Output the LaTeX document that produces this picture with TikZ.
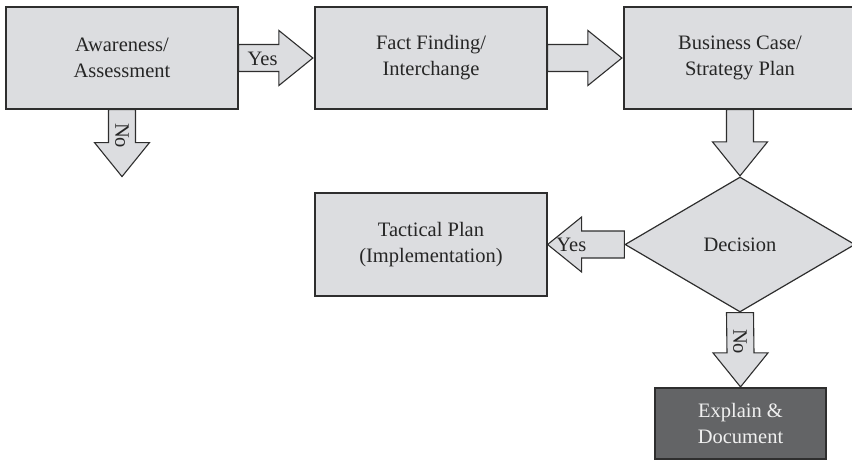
\documentclass[tikz,border=0pt]{standalone}
\usepackage{fontspec}
\setmainfont{Liberation Serif}
\usetikzlibrary{calc,shapes.geometric}

\definecolor{boxfill}{HTML}{DCDDE0}
\definecolor{boxline}{HTML}{2E2E2E}
\definecolor{darkfill}{HTML}{636466}
\definecolor{inktext}{HTML}{262626}

\tikzset{
  stage/.style={draw=boxline, fill=boxfill, line width=1.2pt,
    minimum width=232pt, minimum height=102pt, inner sep=0pt,
    align=center, text=inktext,
    font=\fontsize{20.5pt}{26pt}\selectfont},
  finalbox/.style={stage, fill=darkfill, text=white!94!black,
    minimum width=171pt, minimum height=71pt},
  choice/.style={draw=boxline, fill=boxfill, line width=1.2pt,
    shape=diamond, inner sep=0pt, minimum width=230pt, minimum height=135pt,
    text=inktext, font=\fontsize{20.5pt}{26pt}\selectfont},
  blockarrow/.style={draw=boxline, fill=boxfill, line width=1.1pt, line join=miter},
  arrowlabel/.style={text=inktext, inner sep=0pt,
    font=\fontsize{20.5pt}{26pt}\selectfont}
}

% shaft half width, head half width, head length
\def\sh{13.5}
\def\hh{27.5}
\def\hl{34}

% block arrow pointing right: shaft starts at #1, tip at #2 (same height)
\newcommand\blockright[2]{%
  \draw[blockarrow] ($(#1)+(0,-\sh)$) -- ($(#2)+(-\hl,-\sh)$) -- ($(#2)+(-\hl,-\hh)$)
    -- (#2) -- ($(#2)+(-\hl,\hh)$) -- ($(#2)+(-\hl,\sh)$) -- ($(#1)+(0,\sh)$) -- cycle;}
% block arrow pointing left
\newcommand\blockleft[2]{%
  \draw[blockarrow] ($(#1)+(0,-\sh)$) -- ($(#2)+(\hl,-\sh)$) -- ($(#2)+(\hl,-\hh)$)
    -- (#2) -- ($(#2)+(\hl,\hh)$) -- ($(#2)+(\hl,\sh)$) -- ($(#1)+(0,\sh)$) -- cycle;}
% block arrow pointing down
\newcommand\blockdown[2]{%
  \draw[blockarrow] ($(#1)+(-\sh,0)$) -- ($(#2)+(-\sh,-\hl)$) -- ($(#2)+(-\hh,-\hl)$)
    -- (#2) -- ($(#2)+(\hh,-\hl)$) -- ($(#2)+(\sh,-\hl)$) -- ($(#1)+(\sh,0)$) -- cycle;}

\begin{document}
\begin{tikzpicture}[x=1pt, y=-1pt]
  \useasboundingbox (0,0) rectangle (852,461);

  % stages
  \node[stage] (aware) at (122,58)   {Awareness/\\Assessment};
  \node[stage] (fact)  at (431,58)   {Fact Finding/\\Interchange};
  \node[stage] (biz)   at (740,58)   {Business Case/\\Strategy Plan};
  \node[stage, minimum height=103pt] (tact) at (431,244.5) {Tactical Plan\\(Implementation)};
  \node[choice] (dec)  at (740,244.5) {Decision};
  \node[finalbox] (expl) at (740.5,423.5) {Explain \&\\Document};

  % arrow tips
  \coordinate (tipfact) at ($(fact.west)+(-1.5,0)$);
  \coordinate (tipbiz)  at ($(biz.west)+(-1.5,0)$);
  \coordinate (tipno)   at ($(aware.south)+(0,67)$);
  \coordinate (tipdec)  at ($(dec.north)+(0,-0.5)$);
  \coordinate (tipexpl) at ($(expl.north)+(0,-0.5)$);

  % connectors
  \blockright{aware.east}{tipfact}
  \blockright{fact.east}{tipbiz}
  \blockdown{aware.south}{tipno}
  \blockdown{biz.south}{tipdec}
  \blockleft{dec.west}{tact.east}
  \blockdown{dec.south}{tipexpl}

  % labels on the arrows
  \node[arrowlabel] (yes1) at ($(aware.east)+(24,1)$) {Yes};
  \node[arrowlabel] (yes2) at ($(dec.west)+(-53,0)$) {Yes};
  \node[arrowlabel, rotate=-90] (no1) at ($(aware.south)+(0,26)$) {No};
  \node[arrowlabel, rotate=-90] (no2) at ($(dec.south)+(0,29)$) {No};
\end{tikzpicture}
\end{document}
